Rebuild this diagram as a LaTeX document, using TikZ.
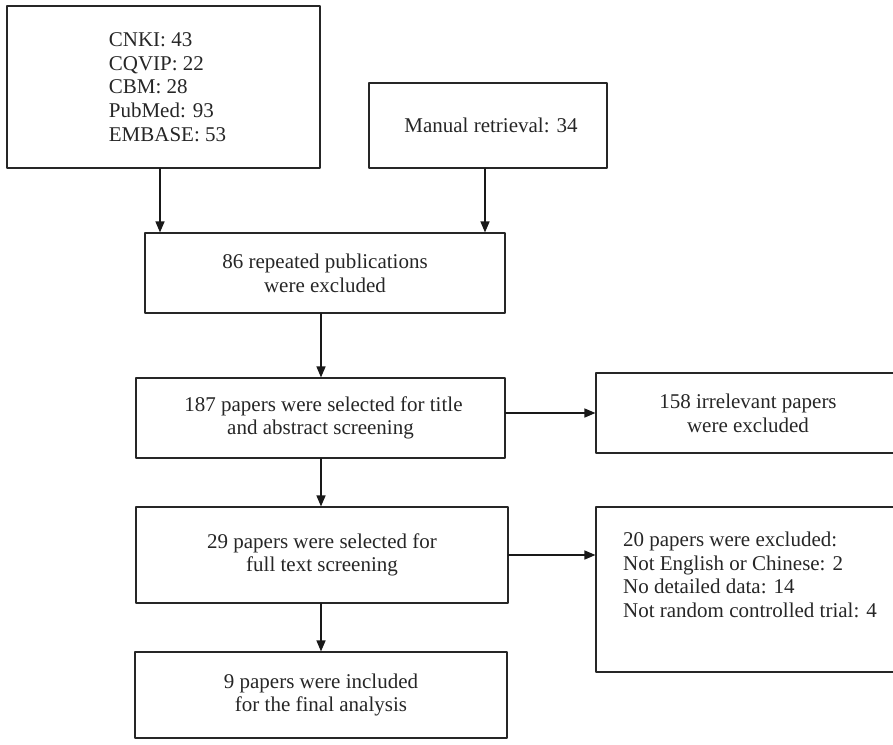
\documentclass[tikz,border=0pt]{standalone}
\usepackage{fontspec}
\setmainfont{Liberation Serif}
\usepackage{tikz}
\usetikzlibrary{arrows.meta}

\begin{document}
\begin{tikzpicture}[x=1pt, y=-1pt, line cap=round, line join=round,
  >={Triangle[length=11pt,width=9pt]},
  box/.style={draw=black!85, line width=1.1pt, rectangle, inner sep=0pt,
    text=black!85, font=\fontsize{21}{23.7}\selectfont, align=center},
  flow/.style={->, draw=black!90, line width=1.4pt}]
  \useasboundingbox (0,0) rectangle (893,744);
  \begin{scope}
  \clip (0,0) rectangle (893,744);
  \node[box, minimum width=313pt, minimum height=162pt, align=left] (dbs) at (163.5,87)
    {\hspace*{8pt}CNKI: 43\\\hspace*{8pt}CQVIP: 22\\\hspace*{8pt}CBM: 28\\\hspace*{8pt}PubMed: 93\\\hspace*{8pt}EMBASE: 53};
  \node[box, minimum width=238pt, minimum height=85pt] (manual) at (488,125.5)
    {\hspace*{6pt}Manual retrieval: 34};
  \node[box, minimum width=360pt, minimum height=80pt] (dup) at (325,273)
    {86 repeated publications\\were excluded};
  \node[box, minimum width=369pt, minimum height=80pt] (title) at (320.5,418)
    {\hspace*{6pt}187 papers were selected for title\\and abstract screening};
  \node[box, minimum width=304pt, minimum height=80pt] (irrel) at (748,413)
    {158 irrelevant papers\\were excluded};
  \node[box, minimum width=372pt, minimum height=96pt] (full) at (322,555)
    {29 papers were selected for\\full text screening};
  \node[box, minimum width=304pt, minimum height=165pt, align=left] (excl) at (748,589.5)
    {\hspace*{4pt}20 papers were excluded:\\\hspace*{4pt}Not English or Chinese: 2\\\hspace*{4pt}No detailed data: 14\\\hspace*{4pt}Not random controlled trial: 4\\[6pt]};
  \node[box, minimum width=372pt, minimum height=86pt] (incl) at (321,695)
    {9 papers were included\\for the final analysis};
  \end{scope}

  % connectors
  \draw[flow] ([xshift=-3.5pt]dbs.south) -- ([xshift=-3.5pt]dbs.south |- dup.north);
  \draw[flow] ([xshift=-3pt]manual.south) -- ([xshift=-3pt]manual.south |- dup.north);
  \draw[flow] (dup.south -| incl) -- (title.north -| incl);
  \draw[flow] (title.south -| incl) -- (full.north -| incl);
  \draw[flow] (full.south -| incl) -- (incl.north);
  \draw[flow] (title.east |- irrel) -- (irrel.west);
  \draw[flow] (full.east) -- (full.east -| excl.west);
\end{tikzpicture}
\end{document}
